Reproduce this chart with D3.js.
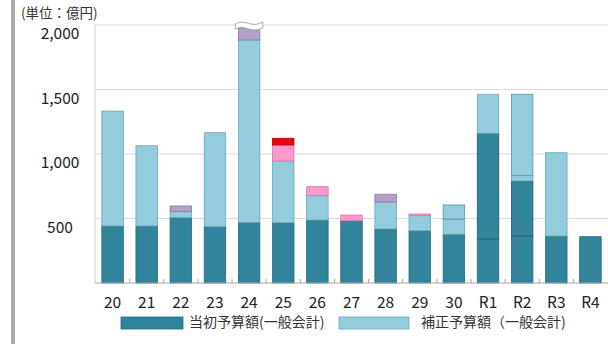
<!DOCTYPE html>
<html>
<head>
<meta charset="utf-8">
<script src="https://cdn.jsdelivr.net/npm/d3@7"></script>
<style>
  body { margin: 0; background: #fff; }
  svg { display: block; font-family: "Noto Sans CJK JP", "Noto Sans", sans-serif; }
</style>
</head>
<body>
<div id="chart"></div>
<script>
// categories (fiscal years)
var years = ["20","21","22","23","24","25","26","27","28","29","30","R1","R2","R3","R4"];

// 当初予算額 (dark), split in two parts for R1, R2
var initialA = [442, 442, 506, 436, 470, 467, 488, 483, 419, 405, 378, 341, 364, 364, 359];
var initialB = [0, 0, 0, 0, 0, 0, 0, 0, 0, 0, 0, 819, 427, 0, 0];
// 補正予算額 (light), split in two parts for 30, R2
var supplA = [891, 622, 47, 729, 1414, 479, 189, 0, 209, 117, 118, 303, 44, 646, 0];
var supplB = [0, 0, 0, 0, 0, 0, 0, 0, 0, 0, 109, 0, 628, 0, 0];
// other segments
var purple = [0, 0, 44, 0, 93, 0, 0, 0, 60, 0, 0, 0, 0, 0, 0];
var pink = [0, 0, 0, 0, 0, 124, 70, 44, 0, 13, 0, 0, 0, 0, 0];
var red = [0, 0, 0, 0, 0, 52, 0, 0, 0, 0, 0, 0, 0, 0, 0];

var yTicks = [500, 1000, 1500, 2000];
var legendLabels = ["当初予算額(一般会計)", "補正予算額（一般会計)"];

var W = 608, H = 344;
var svg = d3.select("#chart").append("svg")
  .attr("width", W).attr("height", H);

// gray page border on the left
svg.append("rect").attr("x", 11).attr("y", 0).attr("width", 4).attr("height", H).attr("fill", "#ababab");

var x = d3.scaleBand().domain(years).range([95, 608]).paddingInner(0.37).paddingOuter(0.2);
var y = d3.scaleLinear().domain([0, 2000]).range([283, 25]);

// gridlines
svg.append("g").selectAll("line").data(yTicks).enter().append("line")
  .attr("x1", 95).attr("x2", W)
  .attr("y1", function(d) { return y(d); }).attr("y2", function(d) { return y(d); })
  .attr("stroke", function(d) { return d == 1500 ? "#e6d6d6" : "#d9d9d9"; })
  .attr("stroke-width", 1.2);

// left axis line
svg.append("line").attr("x1", 95).attr("x2", 95).attr("y1", y(2000)).attr("y2", y(0))
  .attr("stroke", "#cfcfcf");

// y labels (sit a bit below their gridline)
svg.append("g").selectAll("text").data(yTicks).enter().append("text")
  .attr("x", 60).attr("y", function(d) { return y(d) + 10; })
  .attr("text-anchor", "middle").attr("dominant-baseline", "middle")
  .attr("font-size", 15.5).attr("fill", "#222")
  .text(function(d) { return d3.format(",")(d); });

svg.append("text").attr("x", 21).attr("y", 14)
  .attr("font-size", 13.5).attr("fill", "#333").attr("dominant-baseline", "middle")
  .text("(単位：億円)");

// stacked bars
var keys = ["initialA", "initialB", "supplA", "supplB", "purple", "pink", "red"];
var fills = {initialA: "#31849b", initialB: "#31849b", supplA: "#93cddd", supplB: "#93cddd",
             purple: "#b3a2c7", pink: "#ff99cc", red: "#ee0011"};
var strokes = {initialA: "#276a7c", initialB: "#1f5c6b", supplA: "#6fa5b5", supplB: "#5d93a3",
               purple: "#8a7aa0", pink: "#d47aa6", red: "#b0000d"};
var table = years.map(function(yr, i) {
  return {year: yr, initialA: initialA[i], initialB: initialB[i], supplA: supplA[i], supplB: supplB[i],
          purple: purple[i], pink: pink[i], red: red[i]};
});
var stacked = d3.stack().keys(keys)(table);

svg.append("g").selectAll("g").data(stacked).enter().append("g")
  .attr("fill", function(s) { return fills[s.key]; })
  .attr("stroke", function(s) { return strokes[s.key]; })
  .attr("stroke-width", 0.8)
  .selectAll("rect").data(function(s) { return s.filter(function(d) { return d[1] > d[0]; }); })
  .enter().append("rect")
    .attr("x", function(d) { return x(d.data.year); })
    .attr("width", x.bandwidth())
    .attr("y", function(d) { return y(d[1]); })
    .attr("height", function(d) { return y(d[0]) - y(d[1]); });

// break mark on the bar that goes beyond the axis (24)
var bx = x("24"), bw = x.bandwidth(), by = y(2000);
svg.append("path")
  .attr("d", "M" + (bx - 3) + "," + (by - 1) +
    " C" + (bx + bw * 0.3) + "," + (by - 7) + " " + (bx + bw * 0.6) + "," + (by + 4) + " " + (bx + bw + 3) + "," + (by - 3) +
    " L" + (bx + bw + 3) + "," + (by + 3) +
    " C" + (bx + bw * 0.6) + "," + (by + 9) + " " + (bx + bw * 0.3) + "," + (by - 1) + " " + (bx - 3) + "," + (by + 4) + " Z")
  .attr("fill", "#fff").attr("stroke", "#9a9a9a").attr("stroke-width", 0.8);

// baseline and small ticks between bars
svg.append("line").attr("x1", 95).attr("x2", W).attr("y1", y(0)).attr("y2", y(0))
  .attr("stroke", "#a6a6a6");
var step = x.step();
svg.append("g").selectAll("line").data(years.slice(1)).enter().append("line")
  .attr("x1", function(d) { return x(d) - (step - bw) / 2; })
  .attr("x2", function(d) { return x(d) - (step - bw) / 2; })
  .attr("y1", y(0) - 4).attr("y2", y(0))
  .attr("stroke", "#a6a6a6");

// x labels
svg.append("g").selectAll("text").data(years).enter().append("text")
  .attr("x", function(d) { return x(d) + bw / 2; })
  .attr("y", 304)
  .attr("text-anchor", "middle").attr("dominant-baseline", "middle")
  .attr("font-size", 15.5).attr("fill", "#222")
  .text(function(d) { return d; });

// legend
var legend = [
  {label: legendLabels[0], color: "#31849b", stroke: "#276a7c", x: 121, w: 62, tx: 189},
  {label: legendLabels[1], color: "#93cddd", stroke: "#6fa5b5", x: 339, w: 70, tx: 421}
];
var lg = svg.append("g").selectAll("g").data(legend).enter().append("g");
lg.append("rect")
  .attr("x", function(d) { return d.x; }).attr("y", 317)
  .attr("width", function(d) { return d.w; }).attr("height", 12)
  .attr("fill", function(d) { return d.color; })
  .attr("stroke", function(d) { return d.stroke; }).attr("stroke-width", 0.8);
lg.append("text")
  .attr("x", function(d) { return d.tx; }).attr("y", 323)
  .attr("dominant-baseline", "middle")
  .attr("font-size", 14).attr("fill", "#333")
  .text(function(d) { return d.label; });
</script>
</body>
</html>
